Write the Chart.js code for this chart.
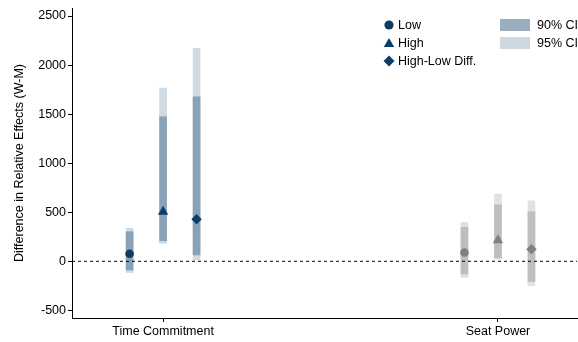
<!DOCTYPE html>
<html>
<head>
<meta charset="utf-8">
<script src="https://cdn.jsdelivr.net/npm/chart.js@4/dist/chart.umd.min.js"></script>
<style>
  html, body { margin: 0; padding: 0; background: #fff; }
  #wrap { position: relative; width: 578px; height: 342px; }
  #legend { position: absolute; left: 0; top: 0; width: 578px; height: 80px; pointer-events: none;
            font-family: "Liberation Sans", Arial, sans-serif; font-size: 12.5px; color: #000; }
  .item { position: absolute; height: 16px; line-height: 16px; white-space: nowrap; }
  .item svg { position: absolute; left: 0; top: 0; }
  .item span { position: absolute; left: 17px; top: 0; }
  .sw { position: absolute; width: 30px; height: 12px; }
  .swl { position: absolute; white-space: nowrap; line-height: 16px; height: 16px; }
</style>
</head>
<body>
<div id="wrap">
  <canvas id="c" width="578" height="342"></canvas>
  <div id="legend">
    <div class="item" style="left:381px; top:17px;">
      <svg width="16" height="16"><circle cx="8" cy="8" r="4.6" fill="#0e3d64"/></svg><span>Low</span>
    </div>
    <div class="item" style="left:381px; top:35px;">
      <svg width="16" height="16"><polygon points="8,3 13.2,12 2.8,12" fill="#0e3d64"/></svg><span>High</span>
    </div>
    <div class="item" style="left:381px; top:53px;">
      <svg width="16" height="16"><polygon points="8,2.5 13.5,8 8,13.5 2.5,8" fill="#0e3d64"/></svg><span>High-Low Diff.</span>
    </div>
    <div class="sw" style="left:500px; top:19px; background:#9badbf;"></div>
    <div class="swl" style="left:537px; top:17px;">90% CI</div>
    <div class="sw" style="left:500px; top:37px; background:#cdd8e1;"></div>
    <div class="swl" style="left:537px; top:35px;">95% CI</div>
  </div>
</div>
<script>
// Outcome categories along the x axis
const categories = ['Time Commitment', 'Seat Power'];

// Point estimates (difference in relative effects, W-M)
const lowEst  = [77, 90];
const highEst = [505, 214];
const diffEst = [428, 124];

// Confidence intervals [lower, upper]
const lowCI90  = [[-89, 301], [-130, 346]];
const lowCI95  = [[-114, 337], [-165, 397]];
const highCI90 = [[210, 1473], [36, 575]];
const highCI95 = [[183, 1765], [20, 685]];
const diffCI90 = [[64, 1676], [-206, 505]];
const diffCI95 = [[13, 2172], [-248, 616]];

// Y axis tick values
const yTicks = [-500, 0, 500, 1000, 1500, 2000, 2500];

// Per-category palettes: first group in blue, second in grey
const markerColor = ['#0e3d64', '#808080'];
const ci90Color   = ['#8aa2b8', '#bebebe'];
const ci95Color   = ['#cfdae3', '#e1e1e1'];

const X_MIN = 0.728, X_MAX = 2.236;
const SHIFT = 0.1; // offset of Low / High / Diff within a category

const FONT = { family: '"Liberation Sans", Arial, sans-serif', size: 12.5 };

function barSet(ci, shift, colors, order) {
  return {
    type: 'bar',
    data: categories.map((c, i) => ({ x: i + 1 + shift, y: ci[i] })),
    backgroundColor: colors,
    borderWidth: 0,
    barThickness: 7,
    grouped: false,
    order: order
  };
}

function pointSet(est, shift, style, radius) {
  return {
    type: 'line',
    showLine: false,
    data: categories.map((c, i) => ({ x: i + 1 + shift, y: est[i] })),
    pointStyle: style,
    pointRadius: radius,
    pointHoverRadius: radius,
    pointBackgroundColor: markerColor,
    pointBorderWidth: 0,
    borderWidth: 0,
    order: 1
  };
}

new Chart(document.getElementById('c'), {
  type: 'bar',
  data: {
    datasets: [
      barSet(lowCI95, -SHIFT, ci95Color, 5),
      barSet(highCI95, 0, ci95Color, 5),
      barSet(diffCI95, SHIFT, ci95Color, 5),
      barSet(lowCI90, -SHIFT, ci90Color, 4),
      barSet(highCI90, 0, ci90Color, 4),
      barSet(diffCI90, SHIFT, ci90Color, 4),
      {
        type: 'line',
        data: [{ x: X_MIN, y: 0 }, { x: X_MAX, y: 0 }],
        borderColor: '#000',
        borderWidth: 1,
        borderDash: [3, 3],
        pointRadius: 0,
        order: 3
      },
      pointSet(lowEst, -SHIFT, 'circle', 4.3),
      pointSet(highEst, 0, 'triangle', 6),
      pointSet(diffEst, SHIFT, 'rectRot', 5.2)
    ]
  },
  options: {
    responsive: false,
    animation: false,
    devicePixelRatio: 1,
    layout: { autoPadding: false, padding: { top: 8, right: 1, bottom: 0, left: 0 } },
    plugins: { legend: { display: false }, tooltip: { enabled: false } },
    scales: {
      x: {
        type: 'linear',
        min: X_MIN,
        max: X_MAX,
        offset: false,
        afterBuildTicks: (s) => { s.ticks = categories.map((c, i) => ({ value: i + 1 })); },
        afterFit: (s) => { s.height = 24; s.paddingLeft = 0; s.paddingRight = 0; },
        ticks: {
          autoSkip: false,
          maxRotation: 0,
          padding: 2,
          color: '#000',
          font: FONT,
          callback: (v) => categories[Math.round(v) - 1]
        },
        grid: { offset: false, drawOnChartArea: false, drawTicks: true, tickLength: 4, color: '#000' },
        border: { display: true, color: '#000', width: 1 }
      },
      y: {
        type: 'linear',
        min: -578,
        max: 2582,
        afterBuildTicks: (s) => { s.ticks = yTicks.map(v => ({ value: v })); },
        afterFit: (s) => { s.width = 72; s.paddingTop = 0; s.paddingBottom = 0; },
        ticks: { padding: 2, color: '#000', font: FONT, callback: (v) => String(v) },
        grid: { drawOnChartArea: false, drawTicks: true, tickLength: 4, color: '#000' },
        border: { display: true, color: '#000', width: 1 },
        title: {
          display: true,
          text: 'Difference in Relative Effects (W-M)',
          color: '#000',
          font: FONT,
          padding: { top: 12, bottom: 0 }
        }
      }
    }
  }
});
</script>
</body>
</html>
